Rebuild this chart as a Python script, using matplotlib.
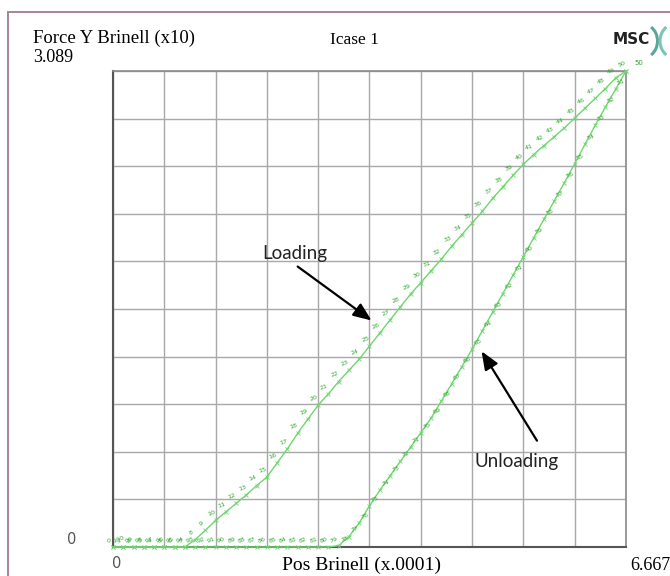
import matplotlib
matplotlib.use("Agg")
import matplotlib.pyplot as plt
from matplotlib.lines import Line2D
from matplotlib.patches import Arc

# increment positions (x.0001) and Brinell force (x10)
load_x = [0.000, 0.133, 0.267, 0.400, 0.533, 0.667, 0.800, 0.933, 1.067, 1.200,
          1.333, 1.467, 1.600, 1.733, 1.867, 2.000, 2.133, 2.267, 2.400, 2.533,
          2.667, 2.800, 2.933, 3.067, 3.200, 3.333, 3.467, 3.600, 3.733, 3.867,
          4.000, 4.133, 4.267, 4.400, 4.533, 4.667, 4.800, 4.933, 5.067, 5.200,
          5.333, 5.467, 5.600, 5.733, 5.867, 6.000, 6.133, 6.267, 6.400, 6.533,
          6.667]
load_y = [0.000, 0.000, 0.000, 0.000, 0.000, 0.000, 0.000, 0.000, 0.048, 0.108,
          0.173, 0.228, 0.283, 0.338, 0.399, 0.454, 0.546, 0.637, 0.738, 0.830,
          0.921, 0.994, 1.074, 1.147, 1.219, 1.304, 1.388, 1.473, 1.557, 1.641,
          1.716, 1.792, 1.868, 1.951, 2.027, 2.103, 2.178, 2.262, 2.337, 2.413,
          2.483, 2.547, 2.605, 2.662, 2.720, 2.784, 2.847, 2.911, 2.975, 3.044,
          3.089]

unload_x = [6.667, 6.533, 6.400, 6.267, 6.133, 6.000, 5.867, 5.733, 5.600, 5.467,
            5.333, 5.200, 5.067, 4.933, 4.800, 4.667, 4.533, 4.400, 4.267, 4.133,
            4.000, 3.867, 3.733, 3.600, 3.467, 3.333, 3.200, 3.067, 2.933, 2.800,
            2.667, 2.533, 2.400, 2.267, 2.133, 2.000, 1.867, 1.733, 1.600, 1.467,
            1.333, 1.200, 1.067, 0.933, 0.800, 0.667, 0.533, 0.400, 0.267, 0.133,
            0.000]
unload_y = [3.089, 2.972, 2.856, 2.737, 2.613, 2.487, 2.365, 2.245, 2.126, 2.006,
            1.885, 1.765, 1.645, 1.524, 1.404, 1.284, 1.170, 1.058, 0.947, 0.836,
            0.741, 0.648, 0.555, 0.462, 0.368, 0.267, 0.157, 0.068, 0.009, 0.000,
            0.000, 0.000, 0.000, 0.000, 0.000, 0.000, 0.000, 0.000, 0.000, 0.000,
            0.000, 0.000, 0.000, 0.000, 0.000, 0.000, 0.000, 0.000, 0.000, 0.000,
            0.000]
load_inc = list(range(0, 51))
unload_inc = list(range(50, 101))

x_max = 6.667
y_max = 3.089

W, H = 670, 576
fig = plt.figure(figsize=(W / 100, H / 100), dpi=100)


def fx(px):
    return px / W


def fy(py):
    return 1 - py / H


# outer frame of the plot window
fig.add_artist(Line2D([fx(8), fx(670)], [fy(12), fy(12)], color="#a98296", lw=1.4))
fig.add_artist(Line2D([fx(8), fx(8)], [fy(12), fy(576)], color="#a98296", lw=1.4))

ax = fig.add_axes([fx(113), fy(547), (626 - 113) / W, (547 - 71) / H])
ax.set_xlim(0, x_max)
ax.set_ylim(0, y_max)
ax.set_xticks([x_max * k / 10 for k in range(11)])
ax.set_yticks([y_max * k / 10 for k in range(11)])
ax.tick_params(length=0, labelbottom=False, labelleft=False)
ax.grid(True, color="#a8a8a8", lw=1.0)
for side in ["top", "right"]:
    ax.spines[side].set_color("#8a8a8a")
    ax.spines[side].set_linewidth(1.2)
for side in ["left", "bottom"]:
    ax.spines[side].set_color("#555555")
    ax.spines[side].set_linewidth(1.5)

line_c = "#6fd66f"
num_c = "#2ea82e"
ax.plot(load_x, load_y, color=line_c, lw=1.0, marker="x", ms=2.5, mew=0.6,
        clip_on=False, zorder=3)
ax.plot(unload_x, unload_y, color=line_c, lw=1.0, marker="x", ms=2.5, mew=0.6,
        clip_on=False, zorder=3)

# increment numbers beside each point
for xv, yv, n in zip(load_x, load_y, load_inc):
    ax.annotate(str(n), (xv, yv), xytext=(-3, 3), textcoords="offset points",
                fontsize=4.6, color=num_c, rotation=20, ha="center",
                annotation_clip=False, zorder=4)
for xv, yv, n in zip(unload_x[1:], unload_y[1:], unload_inc[1:]):
    ax.annotate(str(n), (xv, yv), xytext=(4, 3), textcoords="offset points",
                fontsize=4.6, color=num_c, rotation=20, ha="center",
                annotation_clip=False, zorder=4)
ax.annotate("50", (x_max, y_max), xytext=(6, 4), textcoords="offset points",
            fontsize=5, color=num_c, annotation_clip=False)

# annotation arrows
ax.annotate("", xy=(3.36, 1.47), xytext=(2.40, 1.82),
            arrowprops=dict(arrowstyle="-|>,head_length=1.1,head_width=0.45",
                            color="black", lw=1.6, shrinkA=0, shrinkB=0))
ax.annotate("", xy=(4.79, 1.27), xytext=(5.51, 0.69),
            arrowprops=dict(arrowstyle="-|>,head_length=1.1,head_width=0.45",
                            color="black", lw=1.6, shrinkA=0, shrinkB=0))
fig.text(fx(262), fy(254), "Loading", fontsize=13.5, family="Lato",
         color="#222222", va="center")
fig.text(fx(474), fy(461), "Unloading", fontsize=13.5, family="Lato",
         color="#222222", va="center")

serif = "Liberation Serif"
fig.text(fx(33), fy(38), "Force Y Brinell (x10)", fontsize=13.5, family=serif,
         va="center")
fig.text(fx(33), fy(57), "3.089", fontsize=13, family=serif, va="center")
fig.text(fx(354), fy(40), "Icase 1", fontsize=12.5, family=serif,
         va="center", ha="center")
fig.text(fx(362), fy(565), "Pos Brinell (x.0001)", fontsize=14, family=serif,
         va="center", ha="center")
fig.text(fx(630), fy(566), "6.667", fontsize=13, family=serif, va="center")
fig.text(fx(72), fy(540), "0", fontsize=10.5, color="#555555", va="center",
         ha="center")
fig.text(fx(117), fy(563), "0", fontsize=10.5, color="#555555", va="center",
         ha="center")

# MSC logo
fig.text(fx(631), fy(40), "MSC", fontsize=11, weight="bold", family="Liberation Sans Narrow",
         va="center", ha="center", color="#222222")
logo = fig.add_axes([fx(645), fy(58), 25 / W, 34 / H])
logo.set_xlim(0, 1)
logo.set_ylim(0, 1)
logo.axis("off")
logo.add_patch(Arc((-0.1, 0.5), 1.2, 1.0, theta1=-50, theta2=50,
                   color="#5aa79a", lw=2.2))
logo.add_patch(Arc((1.2, 0.5), 1.2, 1.0, theta1=130, theta2=230,
                   color="#7cc4b4", lw=2.2))

fig.savefig("out.png", dpi=100)
